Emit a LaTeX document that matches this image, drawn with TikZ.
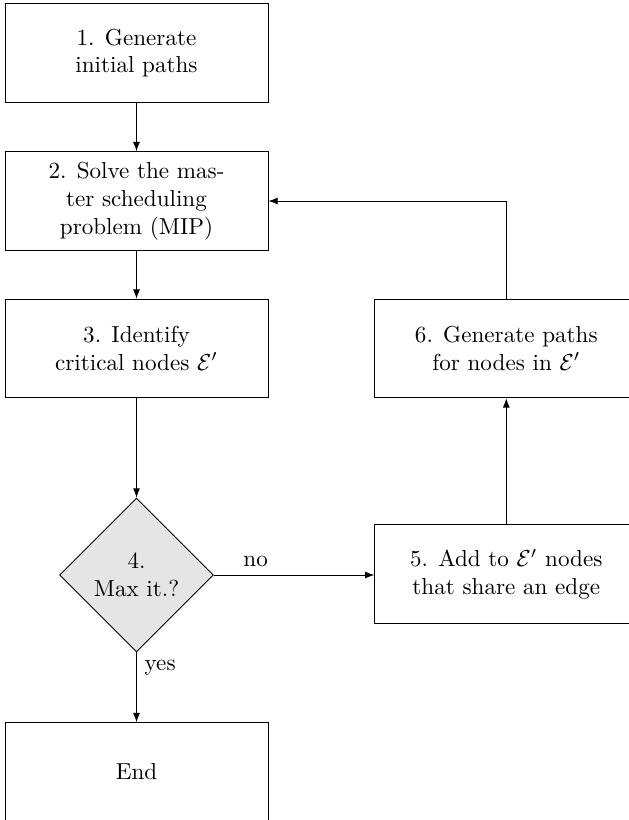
\documentclass[tikz,border=0pt]{standalone}
\usetikzlibrary{shapes.geometric,arrows.meta}
\begin{document}
\begin{tikzpicture}[
  >={Latex[length=4pt,width=3pt]},
  line width=0.4pt,
  stepbox/.style={draw, rectangle, minimum width=4cm, minimum height=1.5cm, align=center, inner sep=3pt},
  decision/.style={draw, diamond, fill=gray!20, aspect=1, minimum size=2.34cm, align=center, inner sep=1pt},
  flow/.style={->}
]
\useasboundingbox (0,0) rectangle (9.566,-12.471);

\node[stepbox] (b1) at (2.076,-0.806) {1. Generate\\initial paths};
\node[stepbox] (b2) at (2.076,-3.057) {2. Solve the mas-\\ter scheduling\\problem (MIP)};
\node[stepbox] (b3) at (2.076,-5.30) {3. Identify\\critical nodes $\mathcal{E}'$};
\node[decision] (d4) at (2.076,-8.745) {4.\\Max it.?};
\node[stepbox] (b7) at (2.076,-11.74) {End};
\node[stepbox] (b5) at (7.70,-8.73) {5. Add to $\mathcal{E}'$ nodes\\that share an edge};
\node[stepbox] (b6) at (7.70,-5.30) {6. Generate paths\\for nodes in $\mathcal{E}'$};

\draw[flow] (b1) -- (b2);
\draw[flow] (b2) -- (b3);
\draw[flow] (b3) -- (d4);
\draw[flow] (d4.east) -- node[pos=0.26, above] {no} (d4.east -| b5.west);
\draw[flow] (d4) -- node[pos=0.22, right] {yes} (b7);
\draw[flow] (b5) -- (b6);
\draw[flow] (b6.north) |- (b2.east);
\end{tikzpicture}
\end{document}
